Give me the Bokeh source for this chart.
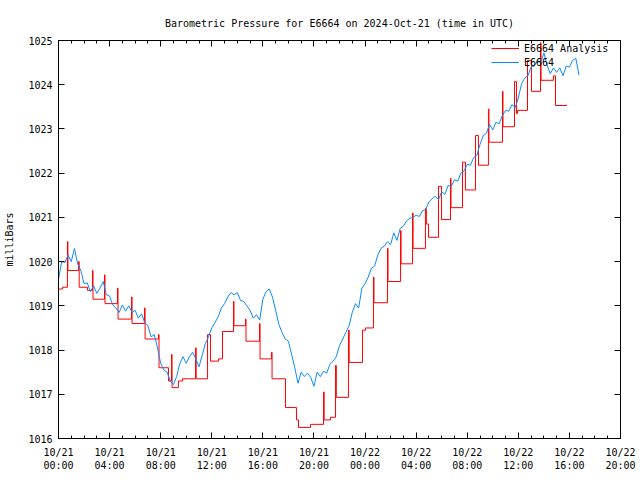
from datetime import datetime, timedelta
import pandas as pd
from bokeh.plotting import figure
from bokeh.models import (Range1d, FixedTicker, DatetimeTickFormatter, DatetimeAxis,
                          LinearAxis, Legend, LegendItem, CustomJSTickFormatter)
from bokeh.embed import file_html
from bokeh.resources import INLINE

# ---------------- data ----------------
station = "E6664"
start_time = datetime(2024, 10, 21, 0, 0)   # x axis starts 10/21 00:00 UTC
end_hours = 44                               # x axis ends 10/22 20:00 UTC

# Observed pressure (mb), one reading every 15 minutes from 10/21 00:00
obs_mb = [
    1019.60, 1020.00, 1019.98, 1020.15, 1020.00, 1020.30, 1019.95, 1019.80,
    1019.50, 1019.52, 1019.32, 1019.45, 1019.28, 1019.40, 1019.55, 1019.25,
    1019.22, 1019.02, 1018.95, 1018.85, 1019.02, 1018.88, 1019.00, 1018.85,
    1018.90, 1018.72, 1018.82, 1018.62, 1018.55, 1018.30, 1018.35, 1018.05,
    1017.70, 1017.55, 1017.50, 1017.30, 1017.22, 1017.40, 1017.70, 1017.85,
    1017.70, 1017.85, 1017.95, 1017.80, 1017.62, 1017.88, 1018.15, 1018.30,
    1018.50, 1018.62, 1018.75, 1018.95, 1019.05, 1019.20, 1019.30, 1019.25,
    1019.30, 1019.12, 1019.10, 1019.00, 1018.90, 1018.72, 1018.80, 1018.68,
    1019.15, 1019.32, 1019.38, 1019.20, 1018.90, 1018.58, 1018.40, 1018.25,
    1018.20, 1017.90, 1017.60, 1017.25, 1017.50, 1017.40, 1017.48, 1017.38,
    1017.18, 1017.50, 1017.40, 1017.52, 1017.48, 1017.68, 1017.75, 1017.85,
    1018.10, 1018.25, 1018.40, 1018.55, 1018.85, 1019.05, 1018.95, 1019.40,
    1019.50, 1019.65, 1019.85, 1019.90, 1020.15, 1020.30, 1020.35, 1020.45,
    1020.38, 1020.65, 1020.48, 1020.75, 1020.80, 1020.92, 1020.98, 1021.00,
    1021.05, 1021.02, 1021.15, 1021.18, 1021.35, 1021.42, 1021.48, 1021.40,
    1021.58, 1021.52, 1021.72, 1021.70, 1021.85, 1021.82, 1022.00, 1022.05,
    1022.20, 1022.18, 1022.35, 1022.40, 1022.65, 1022.85, 1022.90, 1023.10,
    1022.98, 1023.15, 1023.12, 1023.30, 1023.42, 1023.40, 1023.55, 1023.48,
    1023.70, 1024.02, 1024.15, 1024.20, 1024.40, 1024.42, 1024.55, 1024.50,
    1024.72, 1024.45, 1024.25, 1024.38, 1024.28, 1024.38, 1024.20, 1024.42,
    1024.40, 1024.55, 1024.60, 1024.22,
]

# Analysis pressure: step series (hours after 10/21 00:00, mb)
ana_hours = [
    0.00, 0.31, 0.70, 0.74, 1.57, 1.62, 2.27, 2.66, 2.70, 3.60, 3.64, 4.62, 4.66,
    5.72, 5.76, 6.73, 6.78, 7.83, 7.87, 8.61, 8.85, 8.89, 9.39, 9.71, 10.73, 10.78,
    11.67, 11.90, 12.53, 12.84, 13.70, 13.74, 14.64, 14.68, 15.74, 15.78, 16.68,
    16.72, 17.77, 18.63, 18.79, 19.73, 20.75, 20.80, 21.29, 21.69, 21.75, 22.70,
    22.76, 23.80, 24.04, 24.66, 24.70, 25.76, 25.80, 26.78, 26.82, 27.72, 27.76,
    28.73, 28.80, 28.97, 29.75, 29.99, 30.69, 30.73, 31.63, 31.86, 32.65, 32.88,
    33.66, 33.70, 34.76, 34.80, 35.70, 35.86, 35.94, 36.72, 37.03, 37.74, 37.78,
    38.75, 38.91, 39.77,
]
ana_mb = [
    1019.38, 1019.42, 1020.45, 1019.80, 1020.00, 1019.42, 1019.35, 1019.80, 1019.15,
    1019.70, 1019.05, 1019.40, 1018.70, 1019.20, 1018.60, 1018.95, 1018.25, 1018.35,
    1017.60, 1017.30, 1017.90, 1017.15, 1017.30, 1017.35, 1018.05, 1017.35, 1018.35,
    1017.75, 1017.80, 1018.42, 1019.10, 1018.55, 1018.70, 1018.20, 1018.60, 1017.80,
    1017.95, 1017.35, 1016.70, 1016.42, 1016.25, 1016.32, 1017.05, 1016.42, 1016.48,
    1017.65, 1016.93, 1018.45, 1017.72, 1018.45, 1018.50, 1019.65, 1019.07, 1020.30,
    1019.55, 1020.70, 1019.95, 1021.10, 1020.30, 1021.20, 1020.85, 1020.55, 1021.70,
    1020.95, 1021.88, 1021.22, 1022.25, 1021.62, 1022.85, 1022.18, 1023.45, 1022.70,
    1023.85, 1023.05, 1024.07, 1023.35, 1023.42, 1024.55, 1023.85, 1024.95, 1024.10,
    1024.20, 1023.53, 1023.55,
]

tick_hours = [0, 4, 8, 12, 16, 20, 24, 28, 32, 36, 40, 44]
minor_hours = list(range(0, 45))
y_ticks = [1016, 1017, 1018, 1019, 1020, 1021, 1022, 1023, 1024, 1025]

# ---------------- build ----------------
obs_time = pd.date_range(start_time, periods=len(obs_mb), freq="15min")
ana_time = [start_time + timedelta(hours=h) for h in ana_hours]

def to_ms(h):
    return (pd.Timestamp(start_time) + pd.Timedelta(hours=h)).value / 1e6

FONT = "DejaVu Sans Mono"
FS = "10px"

p = figure(width=640, height=480, x_axis_type="datetime",
           x_range=Range1d(start_time, start_time + timedelta(hours=end_hours)),
           y_range=Range1d(1016, 1025),
           output_backend="svg", toolbar_location=None,
           min_border_left=58, min_border_right=20, min_border_top=40, min_border_bottom=42)

p.title.text = f"Barometric Pressure for {station} on 2024-Oct-21 (time in UTC)"
p.title.align = "center"
p.title.text_font = FONT
p.title.text_font_size = FS
p.title.text_font_style = "normal"
p.title.text_color = "black"
p.title.offset = 0
p.title.standoff = 24

p.xgrid.visible = False
p.ygrid.visible = False
p.outline_line_color = "black"
p.outline_line_alpha = 1
p.background_fill_color = "white"
p.border_fill_color = "white"

xt = FixedTicker(ticks=[to_ms(h) for h in tick_hours], minor_ticks=[to_ms(h) for h in minor_hours])
fmt_str = "%m/%d\n%H:%M"
xfmt = DatetimeTickFormatter(microseconds=fmt_str, milliseconds=fmt_str, seconds=fmt_str,
                             minsec=fmt_str, minutes=fmt_str, hourmin=fmt_str, hours=fmt_str,
                             days=fmt_str, months=fmt_str, years=fmt_str)
yt = FixedTicker(ticks=y_ticks, minor_ticks=[])
blank = CustomJSTickFormatter(code="return '';")

def style_axis(ax):
    ax.axis_line_color = "black"
    ax.major_tick_line_color = "black"
    ax.minor_tick_line_color = "black"
    ax.major_tick_in = 6
    ax.major_tick_out = 0
    ax.minor_tick_in = 3
    ax.minor_tick_out = 0
    ax.major_label_text_font = FONT
    ax.major_label_text_font_size = FS
    ax.major_label_text_color = "black"

xa = p.xaxis[0]
xa.ticker = xt
xa.formatter = xfmt
style_axis(xa)
xa.major_label_standoff = 8

ya = p.yaxis[0]
ya.ticker = yt
style_axis(ya)
ya.major_label_standoff = 6
ya.axis_label = "milliBars"
ya.axis_label_text_font = FONT
ya.axis_label_text_font_size = FS
ya.axis_label_text_font_style = "normal"
ya.axis_label_text_color = "black"
ya.axis_label_standoff = 10

top = DatetimeAxis(ticker=xt, formatter=blank)
style_axis(top)
top.major_label_standoff = 0
p.add_layout(top, "above")

right = LinearAxis(ticker=yt, formatter=blank)
style_axis(right)
right.major_label_standoff = 0
p.add_layout(right, "right")

r_ana = p.step(ana_time, ana_mb, mode="after", line_color="#ff0000", line_width=1)
r_obs = p.line(obs_time, obs_mb, line_color="#0d8aff", line_width=1)

legend = Legend(items=[LegendItem(label=f"{station} Analysis", renderers=[r_ana]),
                       LegendItem(label=station, renderers=[r_obs])],
                location=(431, 368))
legend.background_fill_alpha = 0
legend.border_line_alpha = 0
legend.label_text_font = FONT
legend.label_text_font_size = FS
legend.label_text_color = "black"
legend.glyph_width = 28
legend.glyph_height = 12
legend.label_height = 12
legend.spacing = 2
legend.padding = 2
legend.margin = 0
p.add_layout(legend)

open("out.html", "w").write(file_html(p, INLINE))
